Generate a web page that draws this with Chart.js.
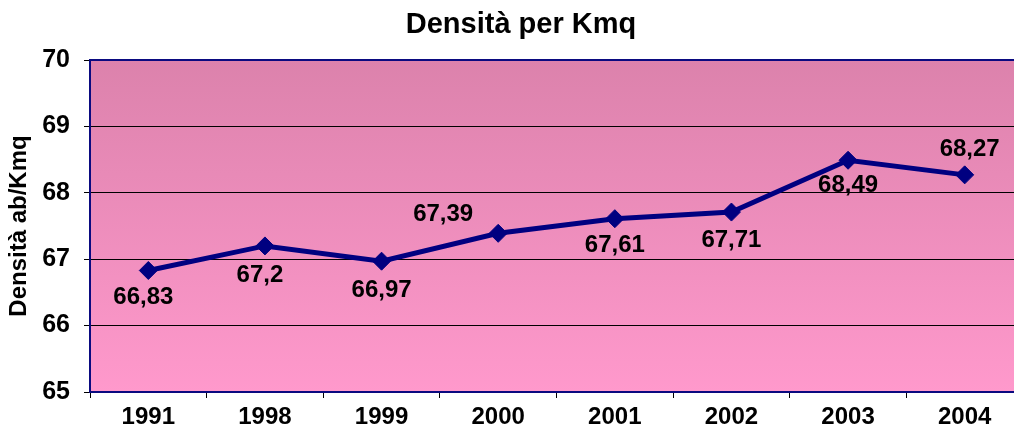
<!DOCTYPE html>
<html>
<head>
<meta charset="utf-8">
<script src="https://cdn.jsdelivr.net/npm/chart.js@4/dist/chart.umd.min.js"></script>
<style>
html,body{margin:0;padding:0;background:#fff;overflow:hidden;}
#wrap{width:1014px;height:432px;overflow:hidden;}
#c{display:block;}
</style>
</head>
<body>
<div id="wrap"><canvas id="c" width="1014" height="432"></canvas></div>
<script>
const categories = ['1991','1998','1999','2000','2001','2002','2003','2004'];
const densita = [66.83, 67.2, 66.97, 67.39, 67.61, 67.71, 68.49, 68.27];
const valueLabels = ['66,83','67,2','66,97','67,39','67,61','67,71','68,49','68,27'];
const yTicks = [65, 66, 67, 68, 69, 70];
const chartTitle = 'Densità per Kmq';
const yTitle = 'Densità ab/Kmq';

const FONT = "Arial, 'Liberation Sans', sans-serif";

const bgPlugin = {
  id: 'bgPlugin',
  afterLayout(chart, args, opts) {
    // plot area continues past the right edge of the picture (cropped)
    const R = opts.plotRight;
    const xs = chart.scales.x;
    xs.right = R;
    xs.width = R - xs.left;
    xs.configure();
    chart.chartArea.right = R;
    chart.chartArea.width = R - chart.chartArea.left;
  },
  beforeDraw(chart, args, opts) {
    const {ctx, chartArea: a} = chart;
    const g = ctx.createLinearGradient(0, a.top, 0, a.bottom);
    g.addColorStop(0, '#DC82AC');
    g.addColorStop(1, '#FF99CC');
    ctx.save();
    ctx.fillStyle = g;
    ctx.fillRect(a.left, a.top, a.right - a.left, a.bottom - a.top);
    ctx.fillStyle = '#000';
    ctx.font = 'bold 29px ' + FONT;
    ctx.textAlign = 'center';
    ctx.textBaseline = 'middle';
    ctx.fillText(chartTitle, opts.titleX, opts.titleY);
    ctx.restore();
  },
  afterDatasetsDraw(chart, args, opts) {
    const {ctx, chartArea: a} = chart;
    ctx.save();
    ctx.strokeStyle = '#0A0A80';
    ctx.lineWidth = 2;
    ctx.beginPath();
    ctx.moveTo(a.right, a.bottom);
    ctx.lineTo(a.left, a.bottom);
    ctx.lineTo(a.left, a.top);
    ctx.lineTo(a.right, a.top);
    ctx.stroke();
    const meta = chart.getDatasetMeta(0);
    ctx.fillStyle = '#000';
    ctx.font = 'bold 24px ' + FONT;
    ctx.textAlign = 'center';
    ctx.textBaseline = 'middle';
    meta.data.forEach((pt, i) => {
      const off = opts.offsets[i];
      ctx.fillText(valueLabels[i], pt.x + off[0], pt.y + off[1]);
    });
    ctx.restore();
  }
};

new Chart(document.getElementById('c'), {
  type: 'line',
  data: {
    labels: categories,
    datasets: [{
      data: densita,
      borderColor: '#000080',
      backgroundColor: '#000080',
      borderWidth: 5,
      pointStyle: 'rectRot',
      pointRadius: 9,
      pointBorderWidth: 1,
      pointBorderColor: '#000080',
      pointBackgroundColor: '#000080',
      tension: 0,
      fill: false
    }]
  },
  options: {
    responsive: false,
    maintainAspectRatio: false,
    animation: false,
    layout: {padding: {left: 0, right: 0, top: 60, bottom: 0}},
    plugins: {
      legend: {display: false},
      tooltip: {enabled: false},
      title: {display: false},
      bgPlugin: {
        plotRight: 1023,
        titleX: 521, titleY: 25,
        offsets: [[-5,27],[-5,29],[0,29],[-55,-19],[0,27],[0,28],[0,25],[5,-25]]
      }
    },
    scales: {
      x: {
        offset: true,
        grid: {display: true, offset: true, drawOnChartArea: false, drawTicks: true, tickLength: 6, color: '#000', lineWidth: 1},
        border: {display: true, color: '#000', width: 1},
        ticks: {color: '#000', font: {family: FONT, size: 24, weight: 'bold'}, padding: 5, maxRotation: 0, autoSkip: false},
        afterFit(s) { s.height = 40; }
      },
      y: {
        min: 65, max: 70,
        afterBuildTicks(s) { s.ticks = yTicks.map(v => ({value: v})); },
        grid: {color: '#000', lineWidth: 1, tickLength: 6, drawTicks: true},
        border: {display: true, color: '#000', width: 1},
        ticks: {color: '#000', font: {family: FONT, size: 25, weight: 'bold'}, padding: 14},
        title: {display: true, text: yTitle, color: '#000', font: {family: FONT, size: 24, weight: 'bold'}, padding: {top: 5, bottom: 0}},
        afterFit(s) { s.width = 90; }
      }
    }
  },
  plugins: [bgPlugin]
});
</script>
</body>
</html>
